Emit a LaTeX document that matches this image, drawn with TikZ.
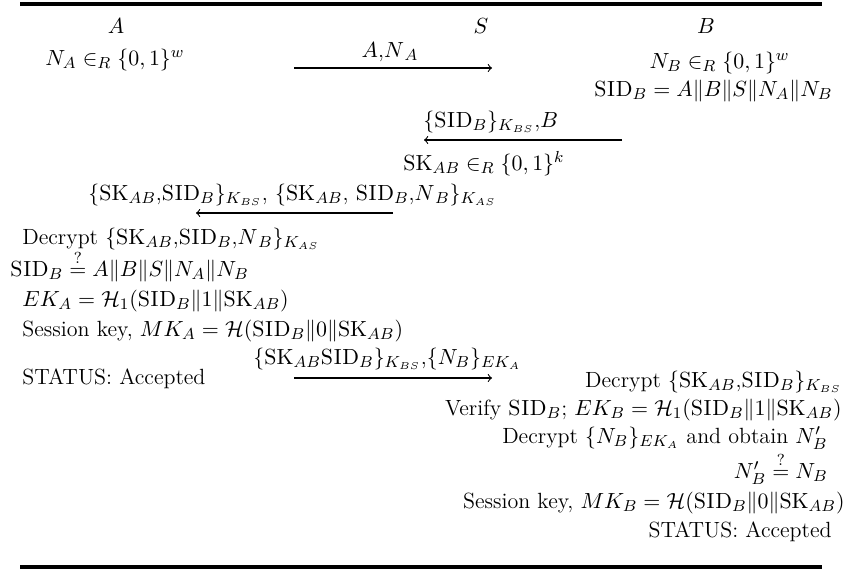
\documentclass[tikz,border=0pt]{standalone}
\usepackage{amsmath}
\newcommand{\idB}{\mathrm{S\mkern0.6mu I\mkern0.6mu D}_B}
\newcommand{\skAB}{\mathrm{SK}_{AB}}
\begin{document}
\begin{tikzpicture}[x=0.5pt,y=-0.5pt,
  txt/.style={inner sep=0pt,font=\fontsize{11}{13}\selectfont},
  lw/.style={txt,anchor=base west},
  le/.style={txt,anchor=base east},
  lc/.style={txt,anchor=base},
  msg/.style={->,line width=0.55pt},
  rulebar/.style={line width=1.6pt}]
\useasboundingbox (0,0) rectangle (845,569);

% top and bottom rules
\coordinate (t1) at (20,4);   \coordinate (t2) at (822,4);
\coordinate (b1) at (20,567); \coordinate (b2) at (822,567);
\draw[rulebar] (t1) -- (t2);
\draw[rulebar] (b1) -- (b2);

% participants
\node[lc] (pA) at (116,33) {$A$};
\node[lc] (pS) at (481,33) {$S$};
\node[lc] (pB) at (706,33) {$B$};

% message 1: A -> S
\node[lw] (nA) at (45,65) {$N_A\in_R\{0,1\}^w$};
\coordinate (m1s) at (294,68); \coordinate (m1e) at (492,68);
\draw[msg] (m1s) -- (m1e);
\node[lc] (m1) at (390,57) {$A$,$N_{\,A}$};

% B computes
\node[le] (nB) at (790,68) {$N_B\in_R\{0,1\}^w$};
\node[le] (sidB) at (833,96) {$\idB = A\|B\|S\|N_A\|N_B$};

% message 2: B -> S
\coordinate (m2s) at (622,140); \coordinate (m2e) at (424,140);
\draw[msg] (m2s) -- (m2e);
\node[lw] (m2) at (423,127) {$\{\idB\}_{K_{BS}}$,$B$};

% S computes
\node[lw] (skS) at (403,170) {$\skAB\in_R\{0,1\}^k$};

% message 3: S -> A
\coordinate (m3s) at (393,213); \coordinate (m3e) at (196,213);
\draw[msg] (m3s) -- (m3e);
\node[lw] (m3) at (88,200) {$\{\skAB$,$\idB\}_{K_{BS}}$, $\{\skAB$, $\idB$,$N_{\,B}\}_{K_{AS}}$};

% A computes
\node[lw] (a1) at (22,244) {Decrypt $\{\skAB$,$\idB$,$N_{\,B}\}_{K_{AS}}$};
\node[lw] (a2) at (10,276) {$\idB\overset{?}{=}A\|B\|S\|N_A\|N_B$};
\node[lw] (a3) at (22,306) {$EK_A=\mathcal{H}_1(\idB\|1\|\skAB)$};
\node[lw] (a4) at (22,336) {Session key, $MK_A=\mathcal{H}(\idB\|0\|\skAB)$};
\node[lw] (a5) at (22,384) {STATUS: Accepted};

% message 4: A -> B
\coordinate (m4s) at (294,378); \coordinate (m4e) at (492,378);
\draw[msg] (m4s) -- (m4e);
\node[lw] (m4) at (253,364) {$\{\skAB\idB\}_{K_{BS}}$,$\{N_B\}_{EK_A}$};

% B computes
\node[le] (b1t) at (842,387) {Decrypt $\{\skAB$,$\idB\}_{K_{BS}}$};
\node[le] (b2t) at (842,415) {Verify $\idB$; $EK_B=\mathcal{H}_1(\idB\|1\|\skAB)$};
\node[le] (b3t) at (828,443) {Decrypt $\{N_B\}_{EK_A}$ and obtain $N'_B$};
\node[le] (b4t) at (828,478) {$N'_B\overset{?}{=}N_B$};
\node[le] (b5t) at (845,508) {Session key, $MK_B=\mathcal{H}(\idB\|0\|\skAB)$};
\node[le] (b6t) at (832,537) {STATUS: Accepted};
\end{tikzpicture}
\end{document}
